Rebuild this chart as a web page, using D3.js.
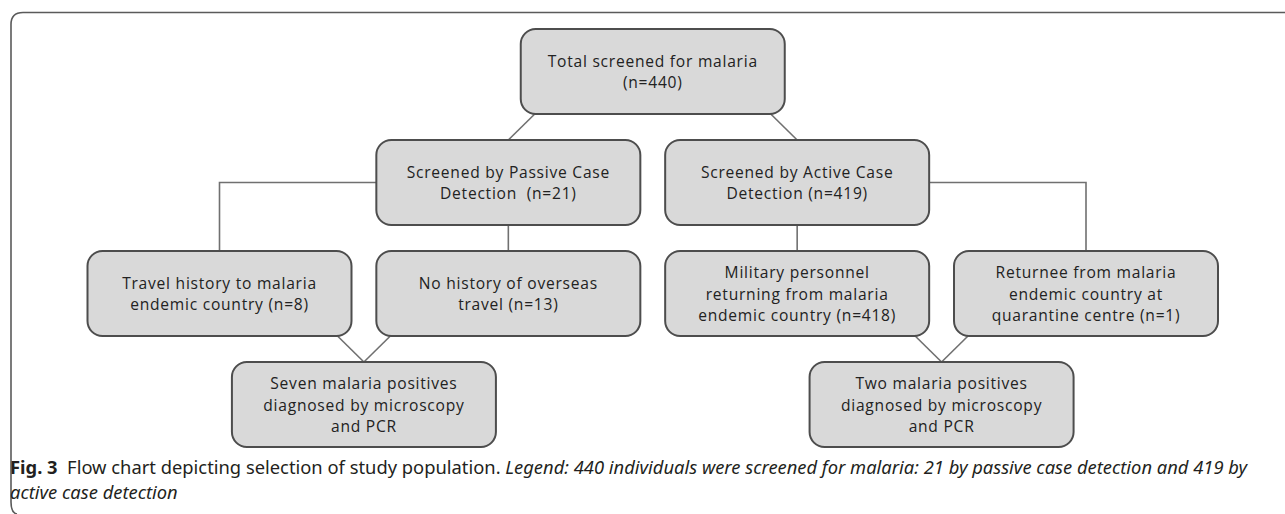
<!DOCTYPE html>
<html>
<head>
<meta charset="utf-8">
<script src="https://cdn.jsdelivr.net/npm/d3@7"></script>
<style>
    html, body { margin: 0; padding: 0; background: #fff; }
    svg { display: block; }
</style>
</head>
<body>
<svg id="flow" width="1285" height="514"></svg>
<script>
// Box texts, one array entry per box (lines of text)
const nodeLabels = [
    ["Total screened for malaria", "(n=440)"],
    ["Screened by Passive Case", "Detection  (n=21)"],
    ["Screened by Active Case", "Detection (n=419)"],
    ["Travel history to malaria", "endemic country (n=8)"],
    ["No history of overseas", "travel (n=13)"],
    ["Military personnel", "returning from malaria", "endemic country (n=418)"],
    ["Returnee from malaria", "endemic country at", "quarantine centre (n=1)"],
    ["Seven malaria positives", "diagnosed by microscopy", "and PCR"],
    ["Two malaria positives", "diagnosed by microscopy", "and PCR"]
];
// Tree level and column slot of each box
const nodeLevels = [0, 1, 1, 2, 2, 2, 2, 3, 3];
const nodeSlots = [1.5, 1, 2, 0, 1, 2, 3, 0.5, 2.5];
// Connectors: [from, to, kind]
const links = [
    [0, 1, "diag"], [0, 2, "diag"],
    [1, 3, "elbow"], [1, 4, "vert"],
    [2, 5, "vert"], [2, 6, "elbow"],
    [3, 7, "diag"], [4, 7, "diag"],
    [5, 8, "diag"], [6, 8, "diag"]
];
const captionBold = "Fig. 3";
const captionText = "Flow chart depicting selection of study population.";
const captionLegend = "Legend: 440 individuals were screened for malaria: 21 by passive case detection and 419 by";
const captionLine2 = "active case detection";

document.addEventListener("DOMContentLoaded", () => {
    const svg = d3.select("#flow");
    const boxW = 264;
    const boxH = 85;

    const x = d3.scaleLinear().domain([0, 3]).range([219.5, 1086]); // column centre
    const y = d3.scaleLinear().domain([0, 3]).range([29, 362]);     // box top

    const nodes = nodeLabels.map((lines, i) => ({
        lines,
        cx: x(nodeSlots[i]),
        top: y(nodeLevels[i])
    }));

    // Outer frame (top and left edge, rounded)
    svg.append("path")
        .attr("d", "M1285,12.5 H23 Q11,12.5 11,24.5 V502 Q11,513 17,514")
        .attr("fill", "none")
        .attr("stroke", "#5a5a5a")
        .attr("stroke-width", 1.6);

    // Connectors
    const linkPath = ([s, t, kind]) => {
        const a = nodes[s], b = nodes[t];
        if (kind === "vert") {
            return `M${a.cx},${a.top + boxH} V${b.top}`;
        }
        if (kind === "elbow") {
            const sx = b.cx < a.cx ? a.cx - boxW / 2 : a.cx + boxW / 2;
            const sy = a.top + boxH / 2;
            return `M${sx},${sy} H${b.cx} V${b.top}`;
        }
        const sx = b.cx < a.cx ? a.cx - boxW / 2 + 14 : a.cx + boxW / 2 - 14;
        return `M${sx},${a.top + boxH} L${b.cx},${b.top}`;
    };

    svg.append("g")
        .selectAll("path")
        .data(links)
        .join("path")
        .attr("d", linkPath)
        .attr("fill", "none")
        .attr("stroke", "#707070")
        .attr("stroke-width", 1.6);

    // Boxes
    const box = svg.append("g")
        .selectAll("g")
        .data(nodes)
        .join("g")
        .attr("transform", (d) => `translate(${d.cx},${d.top})`);

    box.append("rect")
        .attr("x", -boxW / 2)
        .attr("y", 0)
        .attr("width", boxW)
        .attr("height", boxH)
        .attr("rx", 15)
        .attr("fill", "#d9d9d9")
        .attr("stroke", "#4d4d4d")
        .attr("stroke-width", 2);

    const lineGap = 21.3;
    box.append("text")
        .attr("text-anchor", "middle")
        .attr("font-family", "'Open Sans', sans-serif")
        .attr("font-size", 15.6)
        .attr("letter-spacing", 0.75)
        .attr("fill", "#222")
        .style("white-space", "pre")
        .selectAll("tspan")
        .data((d) => d.lines.map((t, i) => ({ t, i, n: d.lines.length })))
        .join("tspan")
        .attr("x", 0)
        .attr("y", (d) => boxH / 2 + (d.i - (d.n - 1) / 2) * lineGap)
        .attr("dominant-baseline", "central")
        .text((d) => d.t);

    // Caption
    const cap = svg.append("g").attr("font-family", "'Noto Sans', sans-serif")
        .attr("font-size", 17.5).attr("fill", "#231f20");

    const line1 = cap.append("text").attr("x", 0).attr("y", 474).style("white-space", "pre");
    line1.append("tspan").attr("font-weight", "bold").text(captionBold);
    line1.append("tspan").text("  " + captionText + " ");
    line1.append("tspan").attr("font-style", "italic").text(captionLegend);

    const line2 = cap.append("text").attr("x", 0).attr("y", 499)
        .attr("font-style", "italic").text(captionLine2);

    // squeeze the caption to the narrow width of the original type
    const sx = (1248 - 10) / line1.node().getComputedTextLength();
    line1.attr("transform", `translate(10,0) scale(${sx},1)`);
    line2.attr("transform", `translate(10,0) scale(${sx},1)`);
});
</script>
</body>
</html>
